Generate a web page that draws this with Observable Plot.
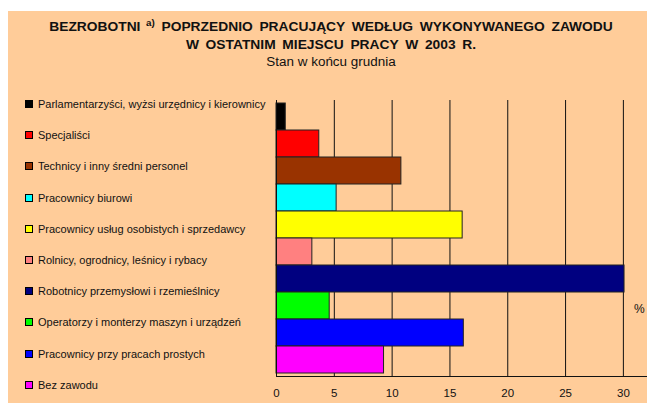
<!DOCTYPE html>
<html>
<head>
<meta charset="utf-8">
<script src="https://cdn.jsdelivr.net/npm/d3@7"></script>
<script src="https://cdn.jsdelivr.net/npm/@observablehq/plot@0.6"></script>
<style>
  html, body { margin: 0; padding: 0; background: #ffffff; }
  body { width: 647px; height: 403px; position: relative; overflow: hidden;
         font-family: "Liberation Sans", Arial, sans-serif; color: #111; }
  #panel { position: absolute; left: 8px; top: 11px; right: 0; bottom: 0; background: #FFCC99; }
  .t { position: absolute; left: 0; width: 662px; text-align: center; white-space: nowrap; line-height: 14px;
       transform-origin: 331px 50%; }
  .tb { font-weight: bold; font-size: 12px; word-spacing: 2.5px; transform: scaleX(1.15); }
  .sub { font-size: 12px; transform: scaleX(1.12); }
  sup { font-size: 8.5px; vertical-align: 5px; line-height: 0; }
  .leg { position: absolute; left: 0; top: 0; }
  .item { position: absolute; left: 25px; height: 14px; line-height: 14px; font-size: 11px; white-space: nowrap; }
  .sw { position: absolute; left: 0; top: 3px; width: 6px; height: 6px; border: 1px solid #000; }
  .lab { position: absolute; left: 13px; top: 0; }
  #chart { position: absolute; left: 0; top: 90px; }
  #pct { position: absolute; left: 634px; top: 302px; font-size: 12px; }
</style>
</head>
<body>
<div id="panel"></div>
<div class="t tb" style="top:20px">BEZROBOTNI<sup> a)</sup> POPRZEDNIO PRACUJĄCY WEDŁUG WYKONYWANEGO ZAWODU</div>
<div class="t tb" style="top:38px">W OSTATNIM MIEJSCU PRACY W 2003 R.</div>
<div class="t sub" style="top:55px">Stan w końcu grudnia</div>
<div class="leg" id="legend"></div>
<div id="chart"></div>
<div id="pct">%</div>
<script>
const categories = [
  "Parlamentarzyści, wyżsi urzędnicy i kierownicy",
  "Specjaliści",
  "Technicy i inny średni personel",
  "Pracownicy biurowi",
  "Pracownicy usług osobistych i sprzedawcy",
  "Rolnicy, ogrodnicy, leśnicy i rybacy",
  "Robotnicy przemysłowi i rzemieślnicy",
  "Operatorzy i monterzy maszyn i urządzeń",
  "Pracownicy przy pracach prostych",
  "Bez zawodu"
];
const values = [0.8, 3.7, 10.8, 5.2, 16.1, 3.1, 30.1, 4.6, 16.2, 9.3];
const colors = ["#000000", "#FF0000", "#993300", "#00FFFF", "#FFFF00",
                "#FF8080", "#000080", "#00FF00", "#0000FF", "#FF00FF"];
const xTicks = [0, 5, 10, 15, 20, 25, 30];
const gridTicks = [5, 10, 15, 20, 25, 30];

const data = categories.map((c, i) => ({category: c, value: values[i], color: colors[i]}));

// legend
const legend = document.getElementById("legend");
categories.forEach((c, i) => {
  const it = document.createElement("div");
  it.className = "item";
  it.style.top = (104 + i * 31.2 - 7) + "px";
  const sw = document.createElement("div");
  sw.className = "sw";
  sw.style.background = colors[i];
  const lab = document.createElement("div");
  lab.className = "lab";
  lab.textContent = c;
  it.appendChild(sw);
  it.appendChild(lab);
  legend.appendChild(it);
});

const chart = Plot.plot({
  width: 647,
  height: 313,
  marginLeft: 276,
  marginRight: 1,
  marginTop: 10,
  marginBottom: 27,
  style: {background: "transparent", fontFamily: "Liberation Sans, Arial, sans-serif", fontSize: "11.5px", color: "#111"},
  x: {domain: [0, 32], ticks: xTicks, tickSize: 0, tickPadding: 12, line: true, label: null},
  y: {domain: categories, padding: 0, axis: null},
  color: {type: "identity"},
  marks: [
    Plot.ruleX(gridTicks, {stroke: "#111", strokeWidth: 1}),
    Plot.barX(data, {x: "value", y: "category", fill: "color", stroke: "#222", strokeWidth: 1}),
    Plot.ruleX([0], {stroke: "#111", strokeWidth: 1})
  ]
});
document.getElementById("chart").appendChild(chart);
</script>
</body>
</html>
